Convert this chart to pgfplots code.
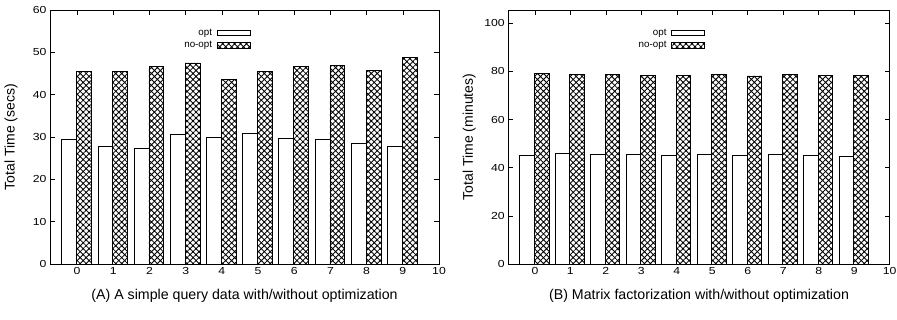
\documentclass[border=0pt]{standalone}
\usepackage{fontspec}
\setmainfont{Liberation Sans}
\newfontfamily\tickfont{Liberation Sans}[FakeStretch=1.2]
\usepackage{pgfplots}
\pgfplotsset{compat=1.18}
\usetikzlibrary{patterns.meta}

\pgfplotsset{
  chartbase/.style={
    scale only axis,
    height=254bp,
    xmin=-0.75, xmax=10,
    ymin=0,
    xtick={0,1,...,10},
    minor tick num=0,
    tick align=inside,
    major tick length=5bp,
    axis line style={line width=0.8bp},
    every tick/.style={line width=0.6bp, black},
    /pgf/number format/assume math mode=true,
    tick label style={font=\tickfont\fontsize{10.2bp}{12bp}\selectfont},
    clip=false,
    legend plot pos=right,
    legend cell align=right,
    legend style={draw=none, fill=none, at={(rel axis cs:0.517,0.93)}, anchor=north east,
      row sep=2.5bp, column sep=4bp, inner sep=0pt,
      nodes={inner sep=1bp, font=\fontsize{9.8bp}{11bp}\selectfont}},
    legend image code/.code={\draw[##1, line width=0.8bp] (0bp,-2.8bp) rectangle (33bp,2.8bp);},
    every axis y label/.style={at={(rel axis cs:0,0.5)}, xshift=-39bp, rotate=90, anchor=center,
      font=\fontsize{14bp}{16bp}\selectfont},
  },
  optbar/.style={ybar, bar width=0.41, bar shift=-0.22, draw=black, line width=0.8bp, fill=white},
  nooptbar/.style={ybar, bar width=0.41, bar shift=0.19, draw=black, line width=0.8bp, fill=white,
    postaction={pattern={Hatch[angle=45,distance=4.2bp,line width=0.85bp]}}},
}

\begin{document}
\begin{tikzpicture}
\useasboundingbox (-50bp,-56bp) rectangle (847bp,264bp);
\begin{axis}[chartbase,
  at={(0bp,0bp)}, anchor=south west,
  width=389bp,
  ymax=60, ytick={0,10,...,60},
  ylabel={Total Time (secs)}]
\addplot[optbar] coordinates {(0,29.4) (1,27.7) (2,27.4) (3,30.6) (4,29.8) (5,30.8) (6,29.7) (7,29.4) (8,28.4) (9,27.8)};
\addlegendentry{opt}
\addplot[nooptbar] coordinates {(0,45.5) (1,45.5) (2,46.6) (3,47.5) (4,43.5) (5,45.5) (6,46.6) (7,46.9) (8,45.7) (9,48.7)};
\addlegendentry{no-opt}
\node[font=\fontsize{14.2bp}{16bp}\selectfont, anchor=center] at ([yshift=-32bp]rel axis cs:0.5,0) {(A) A simple query data with/without optimization};
\end{axis}
\begin{axis}[chartbase,
  at={(458.3bp,0bp)}, anchor=south west,
  width=381.4bp,
  ymax=105.5, ytick={0,20,...,100},
  ylabel={Total Time (minutes)}]
\addplot[optbar] coordinates {(0,45.1) (1,45.9) (2,45.5) (3,45.7) (4,45.1) (5,45.4) (6,45.1) (7,45.7) (8,45.1) (9,44.8)};
\addlegendentry{opt}
\addplot[nooptbar] coordinates {(0,79.0) (1,78.6) (2,78.6) (3,78.4) (4,78.2) (5,78.6) (6,78.1) (7,78.6) (8,78.4) (9,78.4)};
\addlegendentry{no-opt}
\node[font=\fontsize{14.2bp}{16bp}\selectfont, anchor=center] at ([yshift=-32bp]rel axis cs:0.5,0) {(B) Matrix factorization with/without optimization};
\end{axis}
\end{tikzpicture}
\end{document}
